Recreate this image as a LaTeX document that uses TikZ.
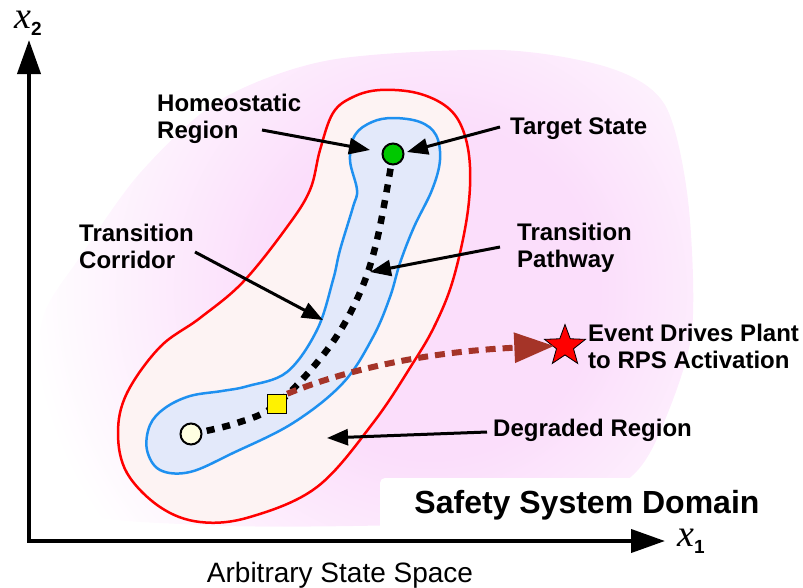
\documentclass[tikz,border=0pt]{standalone}
\usepackage{fontspec}
\setmainfont{Liberation Sans}
\newfontfamily\varfont{Liberation Serif}
\usetikzlibrary{arrows.meta,shapes.geometric}
\definecolor{blobpink}{RGB}{251,222,251}
\definecolor{degradefill}{RGB}{253,243,243}
\definecolor{corridorfill}{RGB}{227,233,250}
\definecolor{corridorline}{RGB}{30,144,240}
\definecolor{eventbrown}{RGB}{165,52,40}
\definecolor{startfill}{RGB}{255,255,225}
\definecolor{targetgreen}{RGB}{0,200,0}
\pgfdeclareradialshading{blobshade}{\pgfpointorigin}{color(0bp)=(blobpink); color(10bp)=(blobpink); color(24bp)=(white); color(50bp)=(white)}
\begin{document}
\begin{tikzpicture}[x=1pt,y=-1pt,
  lbl/.style={font=\fontsize{24}{27}\selectfont\bfseries, align=left, anchor=west, inner sep=0pt},
  callout/.style={line width=3pt, -{Triangle[length=21pt,width=16pt]}},
  axisline/.style={line width=4pt, {Triangle[length=34pt,width=23pt]}-{Triangle[length=34pt,width=23pt]}},
  pathline/.style={line width=6.5pt, dash pattern=on 8pt off 8pt},
  eventline/.style={eventbrown, line width=6pt, dash pattern=on 10pt off 7pt, -{Triangle[length=40pt,width=29pt]}},
  marker/.style={draw=black, line width=2pt, inner sep=0pt}]
  \useasboundingbox (0,0) rectangle (803,587);

  % background domain
  \begin{scope}
    \clip plot[smooth cycle] coordinates {(500,50) (610,68) (665,105) (688,200) (692,330) (665,420) (633,475) (560,515) (400,525) (200,525) (60,505) (38,400) (43,317) (80,257) (140,173) (220,100) (330,60)};
    \shade[shading=blobshade] (430,290) circle (420);
  \end{scope}
  \node[fill=white, rounded corners=5pt, minimum width=414pt, minimum height=54pt,
    font=\fontsize{32}{32}\selectfont\bfseries] (domain) at (587,505) {Safety System Domain};

  % axes
  \coordinate (origin) at (29,541);
  \coordinate (ytip) at (29,40);
  \coordinate (xtip) at (665,541);
  \draw[axisline] (ytip) -- (origin) -- (xtip);
  \node (x2lbl) at (28,23) {{\varfont\itshape\fontsize{38}{38}\selectfont x}\raisebox{-7pt}{\fontsize{19}{19}\selectfont\bfseries 2}};
  \node (x1lbl) at (691,541) {{\varfont\itshape\fontsize{38}{38}\selectfont x}\raisebox{-7pt}{\fontsize{19}{19}\selectfont\bfseries 1}};
  \node[font=\fontsize{28}{28}\selectfont] (space) at (340,575) {Arbitrary State Space};

  % degraded and homeostatic regions
  \draw[red, line width=2.5pt, fill=degradefill] plot[smooth cycle, tension=0.6] coordinates {(380,90) (417,93) (447,107) (463,130) (470,167) (467,217) (453,280) (435,325) (413,363) (373,423) (317,487) (250,517) (200,522) (160,507) (127,473) (118,433) (127,393) (160,347) (200,318) (243,282) (287,227) (310,190) (320,150) (333,113) (353,97)};
  \draw[corridorline, line width=2.5pt, fill=corridorfill] plot[smooth cycle, tension=0.6] coordinates {(393,118) (420,122) (436,135) (440,160) (432,190) (414,227) (400,263) (390,297) (373,337) (343,383) (293,423) (233,453) (190,472) (160,470) (147,450) (150,425) (165,408) (190,396) (222,391) (248,386) (287,372) (317,330) (333,280) (340,250) (353,207) (357,190) (350,160) (355,135) (372,122)};

  % states
  \coordinate (start) at (191,434);
  \coordinate (mid) at (277,404);
  \coordinate (target) at (393,154);
  \draw[pathline] plot[smooth, tension=0.6] coordinates {(start) (237,423) (mid) (327,350) (358,297) (377,240) (target)};
  \node[marker, circle, fill=startfill, minimum size=21pt] (startdot) at (start) {};
  \node[marker, fill=yellow, line width=1.5pt, minimum size=19pt] (middot) at (mid) {};
  \node[marker, circle, fill=targetgreen, minimum size=21pt] (targetdot) at (target) {};
  \node[star, star points=5, star point ratio=2.4, draw=black, line width=0.8pt, fill=red, minimum size=43pt, inner sep=0pt] (rps) at (565,346) {};
  \draw[eventline, shorten >=-2pt] (middot.north east) .. controls (340,372) and (420,352) .. (rps.west);

  % labels
  \node[lbl] (homlbl) at (157,119) {Homeostatic\\Region};
  \node[lbl] (tgtlbl) at (510,128.5) {Target State};
  \node[lbl] (corlbl) at (79,246) {Transition\\Corridor};
  \node[lbl] (pathlbl) at (517,248) {Transition\\Pathway};
  \node[lbl] (deglbl) at (493,430.5) {Degraded Region};
  \node[lbl] (evtlbl) at (588,346) {Event Drives Plant\\to RPS Activation};

  \coordinate (homtail) at (262,130);
  \coordinate (homtip) at (370,150);
  \coordinate (tgttail) at (500,127);
  \coordinate (tgttip) at (407,152);
  \coordinate (cortail) at (195,252);
  \coordinate (cortip) at (323,320);
  \coordinate (pathtail) at (500,247);
  \coordinate (pathtip) at (370,272);
  \coordinate (degtail) at (487,432);
  \coordinate (degtip) at (327,438);
  \draw[callout] (homtail) -- (homtip);
  \draw[callout] (tgttail) -- (tgttip);
  \draw[callout] (cortail) -- (cortip);
  \draw[callout] (pathtail) -- (pathtip);
  \draw[callout] (degtail) -- (degtip);
\end{tikzpicture}
\end{document}
